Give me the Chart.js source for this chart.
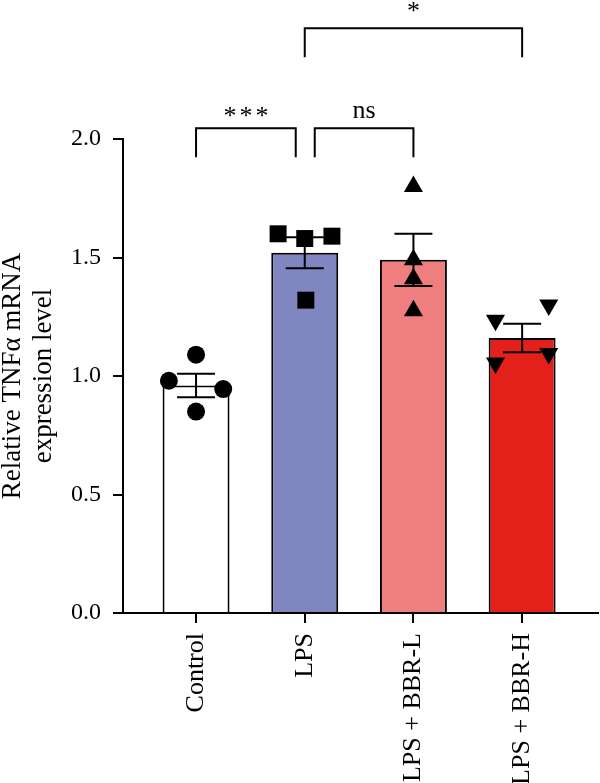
<!DOCTYPE html>
<html lang="en">
<head>
  <meta charset="UTF-8">
  <title>Relative TNFα mRNA expression level</title>
  <script src="https://cdn.jsdelivr.net/npm/chart.js"></script>
  <style>
    html, body { margin: 0; padding: 0; background: #fff; }
    #wrap { width: 600px; height: 783px; }
  </style>
</head>
<body>
  <div id="wrap"><canvas id="grafico"></canvas></div>

  <script>
    // Groups and values
    const groups = ['Control', 'LPS', 'LPS + BBR-L', 'LPS + BBR-H'];
    const means = [0.96, 1.52, 1.49, 1.16];
    const sems = [0.05, 0.065, 0.11, 0.06];
    const controlPts = [1.09, 0.98, 0.945, 0.85];
    const lpsPts = [1.60, 1.58, 1.59, 1.32];
    const bbrLPts = [1.80, 1.49, 1.41, 1.275];
    const bbrHPts = [1.235, 1.30, 1.055, 1.095];
    const yTicks = [0, 0.5, 1.0, 1.5, 2.0];
    const comparisons = [
      { a: 0, b: 1, label: '***', level: 0 },
      { a: 1, b: 2, label: 'ns', level: 0 },
      { a: 1, b: 3, label: '*', level: 1 }
    ];

    // layout only: horizontal spread of the dots inside each group
    const jitter = [
      [0, -0.25, 0.25, 0],
      [-0.245, 0, 0.25, 0.01],
      [0, 0, 0, 0],
      [-0.245, 0.245, -0.245, 0.245]
    ];
    const bracketY = [2.045, 2.467];
    const bracketLeg = 0.122;
    const fontFam = '"Liberation Serif", "Times New Roman", serif';

    // big markers should not shrink the plot area
    if (Chart.ScatterController) {
      Chart.ScatterController.prototype.getMaxOverflow = function () { return 0; };
    }

    function pts(values, g) {
      return values.map((v, k) => ({ x: g + jitter[g][k], y: v }));
    }

    // error bars drawn right after the bars, under the dots
    const errorBars = {
      id: 'errorBars',
      afterDatasetDraw(chart, args) {
        if (args.index !== 0) return;
        const ctx = chart.ctx, xs = chart.scales.x, ys = chart.scales.y;
        ctx.save();
        ctx.strokeStyle = '#000';
        ctx.lineWidth = 2;
        means.forEach((m, i) => {
          const px = xs.getPixelForValue(i);
          const top = ys.getPixelForValue(m + sems[i]);
          const bot = ys.getPixelForValue(m - sems[i]);
          ctx.beginPath();
          ctx.moveTo(px, top); ctx.lineTo(px, bot);
          ctx.moveTo(px - 19, top); ctx.lineTo(px + 19, top);
          ctx.moveTo(px - 19, bot); ctx.lineTo(px + 19, bot);
          ctx.stroke();
        });
        ctx.restore();
      }
    };

    // significance brackets above the plot
    const brackets = {
      id: 'brackets',
      afterDraw(chart) {
        const ctx = chart.ctx, xs = chart.scales.x, ys = chart.scales.y;
        ctx.save();
        ctx.strokeStyle = '#000';
        ctx.lineWidth = 2;
        ctx.fillStyle = '#000';
        ctx.textAlign = 'center';
        ctx.textBaseline = 'alphabetic';
        comparisons.forEach(c => {
          let x1 = xs.getPixelForValue(c.a);
          let x2 = xs.getPixelForValue(c.b);
          if (comparisons.some(o => o !== c && o.level === c.level && o.b === c.a)) x1 += 10;
          if (comparisons.some(o => o !== c && o.level === c.level && o.a === c.b)) x2 -= 9;
          const yt = ys.getPixelForValue(bracketY[c.level]);
          const yb = ys.getPixelForValue(bracketY[c.level] - bracketLeg);
          ctx.beginPath();
          ctx.moveTo(x1, yb); ctx.lineTo(x1, yt); ctx.lineTo(x2, yt); ctx.lineTo(x2, yb);
          ctx.stroke();
          ctx.font = '26px ' + fontFam;
          if (c.label.indexOf('*') >= 0) {
            ctx.letterSpacing = '3px';
            ctx.fillText(c.label, (x1 + x2) / 2 + 1.5, yt - (c.level ? 9 : 4));
          } else {
            ctx.letterSpacing = '0px';
            ctx.fillText(c.label, (x1 + x2) / 2, yt - 10);
          }
        });
        ctx.restore();
      }
    };

    const config = {
      type: 'bar',
      data: {
        datasets: [
          {
            type: 'bar',
            data: means.map((m, i) => ({ x: i, y: m })),
            backgroundColor: ['#ffffff', '#7f86c0', '#ef7f7f', '#e3201a'],
            borderColor: '#000',
            borderWidth: 2,
            barPercentage: 0.616,
            categoryPercentage: 1,
            order: 2
          },
          { type: 'scatter', data: pts(controlPts, 0), pointStyle: 'circle', pointRadius: 9, order: 1 },
          { type: 'scatter', data: pts(lpsPts, 1), pointStyle: 'rect', pointRadius: 12, order: 1 },
          { type: 'scatter', data: pts(bbrLPts, 2), pointStyle: 'triangle', pointRadius: 11, order: 1 },
          { type: 'scatter', data: pts(bbrHPts, 3), pointStyle: 'triangle', pointRotation: 180, pointRadius: 11, order: 1 }
        ].map(d => d.type === 'scatter'
          ? Object.assign(d, { backgroundColor: '#000', borderColor: '#000', borderWidth: 0, clip: false })
          : d)
      },
      options: {
        responsive: true,
        maintainAspectRatio: false,
        animation: false,
        layout: { padding: { left: 0, right: 2, top: 139, bottom: 0 } },
        plugins: { legend: { display: false }, tooltip: { enabled: false } },
        scales: {
          x: {
            type: 'linear',
            offset: false,
            min: -0.672,
            max: 3.698,
            afterBuildTicks: axis => { axis.ticks = groups.map((g, i) => ({ value: i })); },
            afterFit: axis => { axis.height = 170; axis.paddingLeft = 0; axis.paddingRight = 0; },
            grid: { display: true, offset: false, drawOnChartArea: false, drawTicks: true, tickLength: 10, color: '#000', lineWidth: 2 },
            border: { display: true, color: '#000', width: 2 },
            ticks: {
              autoSkip: false,
              minRotation: 90,
              maxRotation: 90,
              padding: 10,
              color: '#000',
              font: { family: fontFam, size: 26 },
              callback: v => groups[v]
            }
          },
          y: {
            min: 0,
            max: 2.0,
            afterBuildTicks: axis => { axis.ticks = yTicks.map(v => ({ value: v })); },
            afterFit: axis => { axis.width = 123; },
            grid: { display: true, drawOnChartArea: false, drawTicks: true, tickLength: 10, color: '#000', lineWidth: 2 },
            border: { display: true, color: '#000', width: 2 },
            ticks: {
              padding: 12,
              color: '#000',
              font: { family: fontFam, size: 24 },
              callback: v => v.toFixed(1)
            },
            title: {
              display: true,
              text: ['Relative TNFα mRNA', 'expression level'],
              color: '#000',
              font: { family: fontFam, size: 27, lineHeight: 1.15 },
              padding: { top: -3, bottom: 0 }
            }
          }
        }
      },
      plugins: [errorBars, brackets]
    };

    const ctx = document.getElementById('grafico').getContext('2d');
    const grafico = new Chart(ctx, config);
  </script>
</body>
</html>
